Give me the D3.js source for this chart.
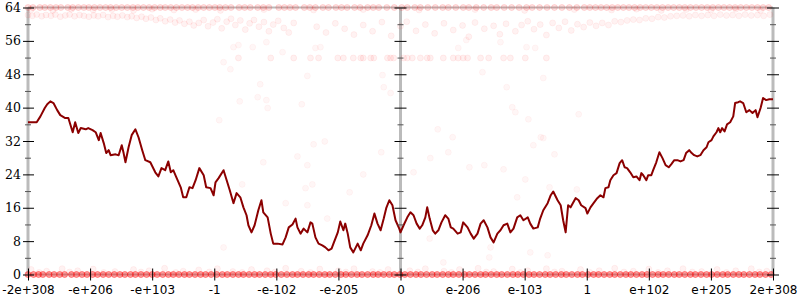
<!DOCTYPE html>
<html><head><meta charset="utf-8">
<script src="https://cdn.jsdelivr.net/npm/d3@7"></script>
<style>body{margin:0;background:#fff} svg{display:block}</style>
</head><body><svg id="c" width="800" height="300"></svg>
<script>
// ---------- DATA ----------
const xTickValues = [-6,-5,-4,-3,-2,-1,0,1,2,3,4,5,6];
const xTickLabels = ["-2e+308","-e+206","-e+103","-1","-e-102","-e-205","0","e-206","e-103","1","e+102","e+205","2e+308"];
const yTicksMajor = [0,8,16,24,32,40,48,56,64];
const yTicksMinor = [4,12,20,28,36,44,52,60];

const lineX = [-6.00,-5.86,-5.80,-5.73,-5.69,-5.64,-5.59,-5.53,-5.48,-5.40,-5.35,-5.28,-5.24,-5.19,-5.15,-5.07,-5.03,-4.96,-4.91,-4.86,-4.83,-4.78,-4.74,-4.70,-4.67,-4.59,-4.54,-4.49,-4.46,-4.43,-4.38,-4.33,-4.27,-4.22,-4.16,-4.11,-4.03,-3.95,-3.90,-3.85,-3.79,-3.74,-3.70,-3.66,-3.61,-3.54,-3.50,-3.45,-3.40,-3.35,-3.30,-3.24,-3.17,-3.13,-3.06,-3.01,-2.98,-2.93,-2.85,-2.80,-2.75,-2.69,-2.64,-2.58,-2.53,-2.48,-2.45,-2.40,-2.35,-2.29,-2.24,-2.21,-2.14,-2.09,-2.05,-1.98,-1.90,-1.85,-1.80,-1.74,-1.69,-1.66,-1.61,-1.56,-1.50,-1.45,-1.42,-1.37,-1.32,-1.26,-1.21,-1.16,-1.11,-1.08,-1.01,-0.97,-0.92,-0.89,-0.85,-0.81,-0.76,-0.69,-0.64,-0.60,-0.53,-0.47,-0.42,-0.37,-0.32,-0.27,-0.23,-0.18,-0.13,-0.08,-0.02,0.00,0.05,0.11,0.16,0.21,0.26,0.31,0.35,0.40,0.43,0.47,0.52,0.56,0.61,0.66,0.72,0.77,0.81,0.85,0.92,0.97,1.01,1.08,1.13,1.18,1.24,1.29,1.34,1.40,1.45,1.50,1.56,1.61,1.66,1.72,1.77,1.82,1.88,1.93,1.98,2.05,2.09,2.14,2.21,2.25,2.30,2.37,2.42,2.46,2.53,2.58,2.62,2.66,2.70,2.74,2.82,2.87,2.91,2.98,3.01,3.06,3.11,3.17,3.22,3.27,3.30,3.35,3.38,3.43,3.48,3.53,3.57,3.61,3.65,3.70,3.75,3.80,3.85,3.88,3.91,3.96,3.99,4.04,4.07,4.12,4.17,4.22,4.27,4.32,4.36,4.41,4.46,4.51,4.56,4.60,4.65,4.69,4.73,4.78,4.83,4.88,4.93,4.96,5.01,5.04,5.09,5.12,5.15,5.18,5.22,5.26,5.31,5.36,5.39,5.44,5.47,5.52,5.57,5.62,5.67,5.72,5.75,5.80,5.84,5.89,5.94,6.00];
const lineY = [36.5,36.5,37.9,39.9,40.8,41.5,41.1,39.4,38.2,37.5,37.5,34.1,36.5,33.9,35.1,34.8,35.1,34.6,34.1,32.2,33.9,31.5,29.1,29.8,28.6,28.8,28.6,31.0,29.1,26.9,30.5,33.4,34.8,32.9,29.8,27.4,26.9,24.5,23.5,25.5,25.0,27.1,24.5,25.0,23.3,20.9,18.5,18.5,20.9,20.7,22.6,25.5,23.8,20.9,20.7,19.0,22.1,23.1,25.0,22.6,20.2,17.1,19.5,18.5,16.1,14.2,11.8,10.1,11.8,15.4,17.8,14.9,13.7,9.8,7.4,7.4,7.2,8.9,11.3,12.0,13.4,11.3,9.8,11.0,10.1,12.5,12.2,8.9,7.4,7.0,6.5,5.8,6.2,7.4,10.1,12.7,10.6,12.2,9.8,6.5,5.3,7.4,5.8,7.4,9.4,11.8,14.6,12.2,10.6,13.4,15.9,17.8,16.6,13.0,11.0,10.1,11.8,13.7,14.9,14.2,12.2,11.0,11.8,13.7,16.1,13.4,10.6,9.8,10.6,12.5,14.2,13.4,11.3,11.0,9.8,10.1,12.5,11.3,9.8,8.6,9.8,12.2,13.0,11.3,8.9,7.7,9.8,10.6,11.8,12.2,10.1,11.0,13.7,14.2,13.0,13.7,12.2,11.0,11.3,13.4,15.4,17.1,19.0,19.9,17.8,16.6,13.0,10.1,16.6,16.1,18.3,17.8,16.6,15.9,14.6,16.1,17.1,18.3,19.0,18.5,20.7,20.9,22.6,23.8,24.3,26.7,27.4,25.7,25.5,24.5,23.3,23.5,22.6,24.3,23.8,22.6,23.8,23.8,25.0,26.9,29.3,27.9,26.2,25.7,26.4,27.4,27.4,27.1,27.4,29.1,29.8,29.1,28.6,28.3,28.6,29.8,30.5,31.7,32.2,33.1,34.1,35.1,34.1,35.1,34.3,36.0,36.5,37.9,41.1,41.3,41.5,41.1,38.9,39.4,38.7,39.4,37.7,39.9,42.3,41.8,42.0,42.0];

// sample points with 0 bits of error (bottom row) and 64 bits (top row)
const zeroRowX = [-6.00,-5.91,-5.83,-5.76,-5.66,-5.58,-5.49,-5.41,-5.30,-5.22,-5.13,-5.05,-4.96,-4.88,-4.79,-4.70,-4.61,-4.52,-4.44,-4.35,-4.27,-4.18,-4.09,-4.00,-3.92,-3.83,-3.74,-3.66,-3.57,-3.48,-3.40,-3.31,-3.22,-3.14,-3.05,-2.96,-2.87,-2.79,-2.70,-2.61,-2.53,-2.44,-2.35,-2.27,-2.18,-2.09,-2.01,-1.92,-1.83,-1.74,-1.66,-1.57,-1.48,-1.40,-1.31,-1.22,-1.14,-1.05,-0.96,-0.88,-0.79,-0.70,-0.62,-0.53,-0.44,-0.36,-0.27,-0.18,-0.10,-0.01,0.07,0.16,0.25,0.33,0.42,0.51,0.59,0.68,0.77,0.85,0.94,1.03,1.11,1.20,1.29,1.37,1.46,1.55,1.63,1.72,1.81,1.89,1.98,2.07,2.15,2.24,2.33,2.41,2.50,2.59,2.67,2.76,2.85,2.93,3.02,3.11,3.19,3.28,3.37,3.45,3.54,3.63,3.71,3.80,3.89,3.97,4.06,4.15,4.23,4.32,4.41,4.49,4.58,4.67,4.75,4.84,4.93,5.01,5.10,5.19,5.27,5.36,5.45,5.53,5.62,5.71,5.79,5.88,5.97];
const topRowX = [-6.00,-5.92,-5.81,-5.73,-5.64,-5.55,-5.47,-5.36,-5.28,-5.19,-5.10,-5.02,-4.93,-4.84,-4.75,-4.67,-4.58,-4.49,-4.40,-4.31,-4.23,-4.14,-4.05,-3.96,-3.87,-3.79,-3.70,-3.61,-3.52,-3.43,-3.35,-3.26,-3.17,-3.08,-2.99,-2.91,-2.82,-2.73,-2.60,-2.51,-2.42,-2.30,-2.21,-2.12,-1.96,-1.87,-1.78,-1.69,-1.55,-1.46,-1.37,-1.25,-1.16,-1.04,-0.95,-0.86,-0.74,-0.65,-0.53,-0.44,-0.35,-0.22,-0.10,0.02,0.11,0.23,0.32,0.44,0.56,0.68,0.77,0.89,1.01,1.10,1.22,1.34,1.46,1.55,1.67,1.79,1.91,2.03,2.12,2.24,2.36,2.48,2.60,2.72,2.84,2.96,3.05,3.14,3.23,3.32,3.41,3.50,3.59,3.68,3.77,3.86,3.95,4.04,4.13,4.22,4.31,4.40,4.49,4.58,4.67,4.76,4.85,4.94,5.03,5.12,5.21,5.30,5.39,5.48,5.57,5.66,5.75,5.84,5.93];

const lowHalo = [[-5.95,1.2],[-5.7,0.8],[-5.45,1.4],[-5.2,0.9],[-4.95,1.3],[-4.6,0.7],[-4.3,1.2],[-4.05,0.9],[-3.8,1.5],[-3.5,0.8],[-3.25,1.1],[-2.95,1.4],[-2.7,0.7],[-2.4,1.2],[-2.15,0.9],[-1.85,1.5],[-1.6,0.8],[-1.3,1.3],[-1.0,0.9],[-0.75,1.4],[-0.45,0.7],[-0.2,1.2],[0.15,0.9],[0.4,1.4],[0.7,0.8],[0.95,1.2],[1.25,1.5],[1.5,0.7],[1.8,1.3],[2.05,0.9],[2.35,1.4],[2.6,0.8],[2.9,1.2],[3.2,0.9],[3.45,1.5],[3.75,0.8],[4.0,1.3],[4.3,0.9],[4.55,1.4],[4.85,0.7],[5.1,1.2],[5.4,0.9],[5.65,1.4],[5.9,0.8],
  [-5.82,0.5],[-5.33,0.6],[-4.78,0.5],[-4.18,0.6],[-3.62,0.5],[-3.08,0.6],[-2.55,0.5],[-2.02,0.6],[-1.45,0.5],[-0.88,0.6],[-0.33,0.5],[0.28,0.6],[0.82,0.5],[1.38,0.6],[1.93,0.5],[2.48,0.6],[3.05,0.5],[3.6,0.6],[4.15,0.5],[4.7,0.6],[5.25,0.5],[5.78,0.6]];
const topHalo = [[-5.95,63.5],[-5.6,63.3],[-5.3,63.6],[-4.95,63.4],[-4.65,63.5],[-4.3,63.3],[-4.0,63.6],[-3.65,63.4],[-3.3,63.5],[-2.9,63.3],[-2.2,63.5],[-1.4,63.4],[-0.6,63.5],[0.3,63.4],[1.2,63.5],[2.0,63.3],[2.8,63.5],[3.4,63.4],[3.8,63.6],[4.2,63.3],[4.6,63.5],[5.0,63.4],[5.4,63.6],[5.8,63.3]];

const band62 = [[-6.00,62.2],[-5.93,62.0],[-5.86,62.3],[-5.78,61.9],[-5.71,62.2],[-5.63,62.0],[-5.56,62.3],[-5.48,61.8],[-5.40,62.1],[-5.33,62.3],[-5.25,61.9],[-5.17,62.2],[-5.10,62.0],[-5.02,61.8],[-4.94,62.1],[-4.87,61.9],[-4.79,62.2],[-4.71,61.7],[-4.63,62.0],[-4.56,61.8],[-4.48,62.1],[-4.40,61.7],[-4.33,61.9],[-4.25,61.5],[-4.17,61.8],[-4.10,61.3],[-4.02,61.6],[-3.94,61.0],[-3.87,61.4],[-3.79,60.7],[-3.71,61.1],[-3.63,60.4],[-3.56,60.9],[-3.48,60.1],[-3.40,60.6],[-3.33,59.7],[-3.25,60.3],[-3.17,61.0],[-3.10,59.5],[-3.02,60.4],[-2.95,61.2],[-2.88,59.0],[-2.80,60.6],[-2.73,61.3],[-2.66,59.8],[-2.58,60.9],[-2.50,58.7],[-2.43,60.2],[-2.36,61.0],[-2.28,59.4],[-2.20,60.5],[-2.12,58.3],[-2.05,59.9],[-1.97,60.8],[-1.88,59.1],[-1.80,58.0],[-1.72,60.3],
  [-1.35,59.4],[-1.2,58.0],[-1.05,60.2],[-0.9,58.9],[-0.75,57.5],[-0.6,59.8],[-0.45,58.3],[-0.3,60.5],[-0.15,57.2],[0.0,59.5],[0.1,60.6],[0.25,58.4],[0.4,59.9],[0.55,57.8],[0.7,60.2],[0.85,58.6],[1.0,59.7],[1.1,57.0],[1.2,60.4],[1.35,58.9],[1.5,59.6],[1.6,57.6],[1.7,60.1],[1.85,58.3],[1.95,59.8],[2.05,60.7],[2.15,58.8],[2.25,59.9],[2.35,57.4],[2.45,60.3],[2.55,59.1],[2.65,60.6],[2.75,58.5],
  [2.85,60.0],[2.95,59.3],[3.05,60.4],[3.15,59.6],[3.25,60.3],[3.35,59.8],[3.45,60.7],[3.55,60.5],[3.65,60.9],[3.75,61.1],[3.85,61.0],[3.95,61.4],[4.05,61.3],[4.15,61.7],[4.25,61.6],[4.35,61.9],[4.45,62.0],[4.55,62.1],[4.65,61.9],[4.75,62.2],[4.85,62.0],[4.95,62.2],[5.05,62.0],[5.15,62.3],[5.25,62.1],[5.35,62.2],[5.45,62.0],[5.55,62.3],[5.65,62.1],[5.75,62.2],[5.85,62.0],[5.95,62.3]];

const band52X = [-2.61,-2.09,-1.72,-1.45,-1.32,-1.01,-0.92,-0.76,-0.64,-0.60,-0.48,-0.43,-0.21,-0.16,-0.11,0.05,0.11,0.19,0.32,0.43,0.48,0.69,0.85,0.93,1.01,1.08,1.29,1.42,1.66,1.77,2.01,2.35];

const scatter = [[-2.59,41.5],[-2.30,42.5],[-2.16,41.8],[-2.14,39.9],[-1.59,40.8],[-2.92,37.0],[-1.40,31.2],[-1.22,31.9],[-1.66,28.3],[-2.21,26.9],[-1.50,26.2],[-0.31,29.3],[-0.60,24.0],[-2.55,21.6],[-1.53,20.7],[-1.42,21.6],[-0.82,19.7],[-1.85,17.1],[-1.50,16.6],[-0.16,43.5],[1.80,40.1],[1.85,38.9],[2.06,37.2],[2.87,38.4],[0.60,34.8],[0.84,32.9],[2.26,32.9],[2.30,32.7],[2.14,31.0],[0.77,29.3],[0.48,27.9],[2.48,28.8],[1.11,25.7],[1.35,26.2],[1.66,25.2],[0.21,24.5],[2.01,22.8],[2.40,20.9],[1.88,18.5],[2.84,20.4],[-1.50,47.6],[-2.74,49.2],[-2.85,50.9],[-2.26,45.6],[-1.90,53.3],[-1.37,54.3],[-1.29,54.5],[-2.69,54.5],[-2.38,54.5],[-2.61,55.0],[-2.16,55.7],[-0.29,47.8],[-0.27,44.9],[1.32,48.5],[1.71,44.9],[2.30,47.1],[0.93,54.3],[1.06,56.2],[1.61,55.7],[2.03,54.5],[2.17,54.3],[-2.85,6.5],[-1.18,13.4],[0.47,8.6],[1.45,6.5],[2.09,5.3],[2.37,4.6],[0.69,2.9],[1.43,4.1]];

// ---------- DRAW ----------
const svg = d3.select('#c');
const x = d3.scaleLinear().domain([-6,6]).range([28,773]);
const y = d3.scaleLinear().domain([0,64]).range([274.5,7.5]);

const axisCol = '#bbbbbb';
const frame = svg.append('g');
[-6,0,6].forEach(v => frame.append('line')
  .attr('x1',x(v)).attr('x2',x(v)).attr('y1',y(0)).attr('y2',y(64))
  .attr('stroke',axisCol).attr('stroke-width',3));
[0,64].forEach(v => frame.append('line')
  .attr('x1',x(-6)).attr('x2',x(6)).attr('y1',y(v)).attr('y2',y(v))
  .attr('stroke',axisCol).attr('stroke-width',2));

// points
const pts = [];
lowHalo.forEach(d => pts.push([d[0],d[1],0.05]));
topHalo.forEach(d => pts.push([d[0],d[1],0.05]));
band62.forEach(d => pts.push([d[0],d[1],0.05]));
band52X.forEach(v => pts.push([v,51.9,0.06]));
scatter.forEach(d => pts.push([d[0],d[1],0.035]));
topRowX.forEach(v => pts.push([v,64,0.12]));
zeroRowX.forEach(v => pts.push([v,0,0.38]));

svg.append('g').selectAll('circle').data(pts).join('circle')
  .attr('cx',d=>x(d[0])).attr('cy',d=>y(d[1])).attr('r',3)
  .attr('fill','red').attr('fill-opacity',d=>d[2])
  .attr('stroke','red').attr('stroke-opacity',d=>d[2])
  .attr('stroke-width',1);

// error line
svg.append('path')
  .datum(lineX.map((v,i)=>[v,lineY[i]]))
  .attr('fill','none').attr('stroke','#8b0000').attr('stroke-width',2)
  .attr('stroke-linejoin','round')
  .attr('d', d3.line().x(d=>x(d[0])).y(d=>y(d[1])));

// ticks
function strip(g){ g.select('.domain').remove(); }
svg.append('g').attr('transform',`translate(${x(-6)+6},0)`)
  .call(d3.axisLeft(y).tickValues(yTicksMajor).tickSize(11).tickPadding(2))
  .call(strip)
  .call(g=>g.selectAll('line').attr('stroke','#000'))
  .call(g=>g.selectAll('text').attr('font-family','"DejaVu Serif", serif').attr('font-size',12.5).attr('fill','#000'));
svg.append('g').attr('transform',`translate(${x(-6)+3},0)`)
  .call(d3.axisLeft(y).tickValues(yTicksMinor).tickSize(6).tickFormat(''))
  .call(strip).call(g=>g.selectAll('line').attr('stroke','#555'));
[0,6].forEach(v=>{
  svg.append('g').attr('transform',`translate(${x(v)+6},0)`)
    .call(d3.axisLeft(y).tickValues(yTicksMajor).tickSize(12).tickFormat(''))
    .call(strip).call(g=>g.selectAll('line').attr('stroke','#000'));
  svg.append('g').attr('transform',`translate(${x(v)+3},0)`)
    .call(d3.axisLeft(y).tickValues(yTicksMinor).tickSize(6).tickFormat(''))
    .call(strip).call(g=>g.selectAll('line').attr('stroke','#555'));
});
svg.append('g').attr('transform',`translate(0,${y(0)-6})`)
  .call(d3.axisBottom(x).tickValues(xTickValues).tickSize(12).tickPadding(5)
        .tickFormat((d,i)=>xTickLabels[i]))
  .call(strip)
  .call(g=>g.selectAll('line').attr('stroke','#000'))
  .call(g=>g.selectAll('text').attr('font-family','"DejaVu Sans", sans-serif').attr('font-size',12).attr('fill','#000'));
</script></body></html>
